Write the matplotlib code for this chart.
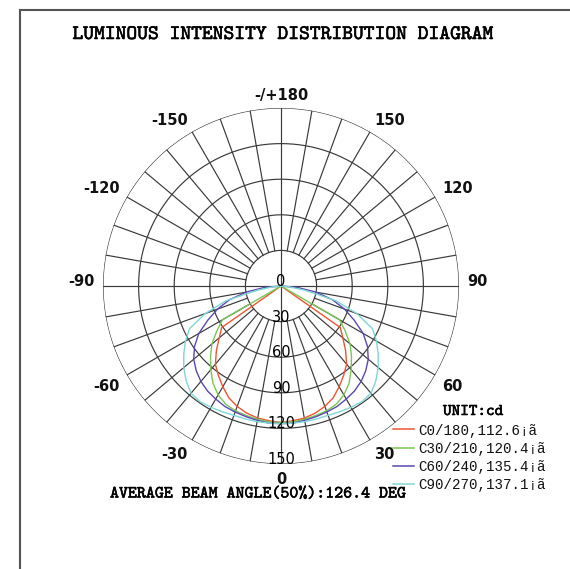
import numpy as np
import matplotlib.pyplot as plt
from matplotlib import patheffects
from matplotlib.lines import Line2D

# gamma angles (deg) and intensities (cd) per C-plane
gamma = [0, 5, 10, 15, 20, 25, 30, 35, 40, 45, 50, 55, 60, 65, 70, 75, 80, 85, 90]
c0_180 = [115, 114, 113, 111, 108, 104, 98, 92, 86, 77, 68, 61, 0, 0, 0, 0, 0, 0, 0]
c30_210 = [115, 115, 114, 113, 112, 110, 106, 100, 92, 84, 76, 66, 57, 0, 0, 0, 0, 0, 0]
c60_240 = [116, 116, 115, 114, 113, 112, 110, 108, 105, 101, 96, 89, 80, 68, 57, 45, 30, 14, 0]
c90_270 = [116, 116, 116, 116, 116, 117, 118, 119, 118, 113, 107, 100, 93, 85, 68, 48, 20, 6, 0]

planes = ['C0/180', 'C30/210', 'C60/240', 'C90/270']
beam_angles = [112.6, 120.4, 135.4, 137.1]
series = [c0_180, c30_210, c60_240, c90_270]
colors = ['#ee5533', '#77c855', '#5a48b0', '#7fd6d6']

ring_values = [0, 30, 60, 90, 120, 150]
angle_labels = [-150, -120, -90, -60, -30, 0, 30, 60, 90, 120, 150, 180]
avg_beam = 126.4

W, H = 570, 569
fx = lambda px: px / W
fy = lambda py: 1 - py / H

fig = plt.figure(figsize=(W / 100, H / 100), dpi=100)
fig.patch.set_facecolor('white')

# polar axes: centre at (281, 286) px, radius 178 px
cx, cy, R = 281, 286, 178
ax = fig.add_axes([fx(cx - R), fy(cy + R), 2 * R / W, 2 * R / H], projection='polar')
ax.set_theta_zero_location('S')
ax.set_theta_direction(1)
ax.set_ylim(0, 150)
ax.set_axis_off()

gc = '#3a3a3a'
full = np.linspace(0, 2 * np.pi, 721)
for r in ring_values[1:]:
    ax.plot(full, np.full_like(full, r), color=gc, lw=0.85, zorder=1)
for a in range(-170, 190, 10):
    start = 0 if a % 90 == 0 else 30
    ax.plot([np.radians(a)] * 2, [start, 150], color=gc, lw=0.85, zorder=1)

# curves: C0 side on the right, C180 side mirrored on the left
g = np.radians(gamma)
for vals, col in zip(series, colors):
    v = np.array(vals, dtype=float)
    th = np.concatenate([-g[::-1], g[1:]])
    rr = np.concatenate([v[::-1], v[1:]])
    ax.plot(th, rr, color=col, lw=1.0, zorder=3)

# ring value labels along the 0 direction
for rv in ring_values:
    ax.text(0, rv, str(rv), ha='center', va='baseline', fontsize=10.5,
            family='DejaVu Sans', color='black', zorder=4)

# angle labels
lab_r = 186 / R * 150
for a in angle_labels:
    s = np.sin(np.radians(a))
    c = np.cos(np.radians(a))
    if abs(s) < 1e-6:
        ha = 'center'
    else:
        ha = 'left' if s > 0 else 'right'
    va = 'baseline' if c <= 1e-6 else 'top'
    txt = '-/+180' if a == 180 else str(a)
    ax.text(np.radians(a), lab_r, txt, ha=ha, va=va, fontsize=10.5,
            fontweight='bold', family='DejaVu Sans', color='#111111')

bold = [patheffects.withStroke(linewidth=0.4, foreground='black')]
mono = ['cmtt10', 'DejaVu Sans']

fig.text(fx(282.5), fy(33), 'LUMINOUS INTENSITY DISTRIBUTION DIAGRAM', ha='center',
         va='center_baseline', fontsize=14.8, family=mono, path_effects=bold)
fig.text(fx(110), fy(492), 'AVERAGE BEAM ANGLE(50%%):%.1f DEG' % avg_beam, ha='left',
         va='center_baseline', fontsize=12.3, family=mono, path_effects=bold, zorder=5)
fig.text(fx(443), fy(410), 'UNIT:cd', ha='left', va='center_baseline', fontsize=11.8,
         family=mono, path_effects=bold)

rows = [429, 447.5, 465.5, 483.5]
for name, ba, col, yy in zip(planes, beam_angles, colors, rows):
    fig.add_artist(Line2D([fx(393), fx(414)], [fy(yy)] * 2, color=col, lw=1.1))
    fig.text(fx(418), fy(yy), '%s,%.1f¡ã' % (name, ba), ha='left', va='center_baseline',
             fontsize=10.2, family='Liberation Mono', color='#111111')

# page frame (left and top edges)
fig.add_artist(Line2D([fx(19.5), fx(19.5)], [fy(9.5), 0], color='#555555', lw=1.5))
fig.add_artist(Line2D([fx(19.5), 1], [fy(9.5), fy(9.5)], color='#555555', lw=1.5))

fig.savefig('out.png', dpi=100)
